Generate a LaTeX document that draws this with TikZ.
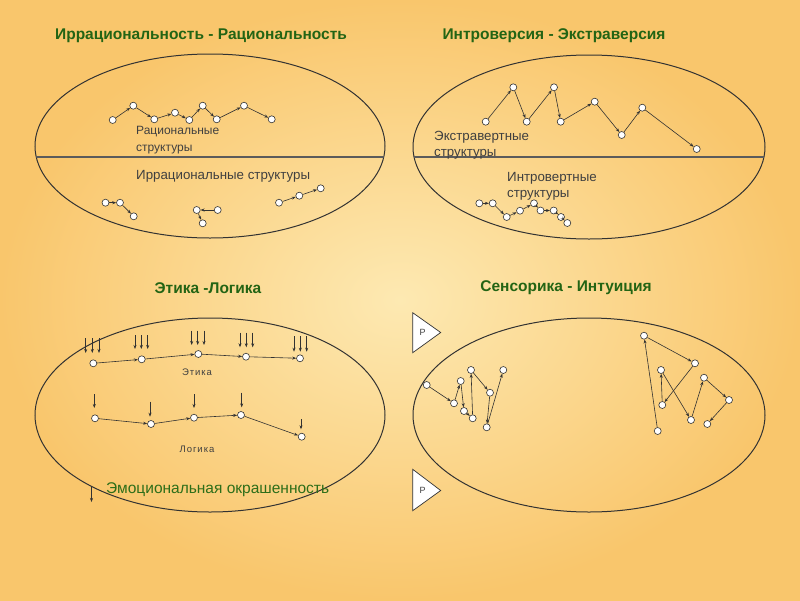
\documentclass[tikz,border=0pt]{standalone}
\usepackage{fontspec}
\setmainfont{Liberation Sans}
\usetikzlibrary{arrows.meta}
\definecolor{bgout}{RGB}{249,198,108}
\definecolor{bgin}{RGB}{253,233,178}
\definecolor{titlegreen}{RGB}{35,100,20}
\definecolor{emogreen}{RGB}{45,110,25}
\definecolor{ln}{RGB}{50,50,50}
\begin{document}
\begin{tikzpicture}[x=1pt,y=-1pt,
  dot/.style={circle,draw=ln,fill=white,inner sep=0pt,minimum size=7pt,line width=0.6pt},
  arr/.style={-{Stealth[length=4pt,width=3pt]},draw=ln,line width=0.6pt},
  oval/.style={draw=ln,line width=1pt},
  divider/.style={draw=ln!80,line width=1.3pt},
  titletext/.style={font=\bfseries\fontsize{15.5}{17}\selectfont,text=titlegreen,inner sep=0pt},
  lbl/.style={font=\fontsize{13.3}{16}\selectfont,text=black!75,align=left,anchor=west,inner sep=0pt},
  small/.style={font=\fontsize{9.5}{10}\selectfont\addfontfeature{LetterSpace=10},text=black!75,inner sep=0pt},
  tri/.style={draw=ln,fill=white,line width=0.7pt}]
\useasboundingbox (0,0) rectangle (800,600);
\shade[inner color=bgin,outer color=bgout] (0,0) rectangle (800,600);

% ---- titles
\node[titletext] (t1) at (201,36) {Иррациональность - Рациональность};
\node[titletext] (t2) at (554,36) {Интроверсия - Экстраверсия};
\node[titletext] (t3) at (208,288) {Этика -Логика};
\node[titletext] (t4) at (566,288) {Сенсорика - Интуиция};

% ---- ellipses
\draw[oval] (210,146) ellipse [x radius=175,y radius=92];
\draw[oval] (589,147) ellipse [x radius=176,y radius=92];
\draw[oval] (210,415) ellipse [x radius=175,y radius=97];
\draw[oval] (589,415) ellipse [x radius=176,y radius=97];
\begin{scope}
  \clip (210,146) ellipse [x radius=175,y radius=92];
  \draw[divider] (30,157) -- (390,157);
\end{scope}
\begin{scope}
  \clip (589,147) ellipse [x radius=176,y radius=92];
  \draw[divider] (405,157) -- (770,157);
\end{scope}

% ---- top-left: rational structures
\node[lbl,font=\fontsize{12}{17}\selectfont] (lr) at (136,140.5) {Рациональные\\структуры};
\node[lbl] (li) at (136,176) {Иррациональные структуры};
\foreach \n/\x/\y in {r1/112.7/120,r2/133.3/105.7,r3/154.3/119.3,r4/175/112.7,r5/189.3/120,
  r6/202.7/105.7,r7/216.7/119.3,r8/244/105.7,r9/271.7/119.3,
  i1/105.5/202.7,i2/120/202.7,i3/133.7/216.3,
  i4/196.7/210,i5/217.7/210,i6/202.7/223.3,
  i7/279/202.7,i8/299.3/195.7,i9/320.7/188.3}
  \node[dot] (\n) at (\x,\y) {};
\foreach \a/\b in {r1/r2,r2/r3,r3/r4,r4/r5,r5/r6,r6/r7,r7/r8,r8/r9,
  i1/i2,i2/i3,i5/i4,i4/i6,i7/i8,i8/i9}
  \draw[arr] (\a) -- (\b);

% ---- top-right: extravert / introvert
\node[lbl] (le) at (434,145.5) {Экстравертные\\структуры};
\node[lbl] (lin) at (507,186) {Интровертные\\структуры};
\foreach \n/\x/\y in {e1/485.7/121.7,e2/513.3/87.3,e3/526.7/121.7,e4/554/87.3,e5/560.7/121.7,
  e6/594.7/101.7,e7/621.7/135,e8/642.3/107.7,e9/696.7/149,
  n1/479.3/203.3,n2/492.7/203.3,n3/506.7/217,n4/520/210.7,n5/534/203.3,
  n6/540.5/210.5,n7/553.7/210.5,n8/561/217,n9/567.3/223}
  \node[dot] (\n) at (\x,\y) {};
\foreach \a/\b in {e1/e2,e2/e3,e3/e4,e4/e5,e5/e6,e6/e7,e7/e8,e8/e9,
  n1/n2,n2/n3,n3/n4,n4/n5,n5/n6,n6/n7,n7/n8,n8/n9}
  \draw[arr] (\a) -- (\b);

% ---- bottom-left: ethics / logic
\foreach \n/\x/\y in {a1/93.3/363.3,a2/141.7/359.3,a3/198.3/354,a4/246/356.7,a5/300/358.3,
  b1/95/418.3,b2/151/424,b3/194/417.7,b4/241/415,b5/301.7/436.7}
  \node[dot] (\n) at (\x,\y) {};
\foreach \a/\b in {a1/a2,a2/a3,a3/a4,a4/a5,b1/b2,b2/b3,b3/b4,b4/b5}
  \draw[arr] (\a) -- (\b);
\foreach[count=\i] \x/\ya/\yb in {85.7/338/353,92.3/338/353,99/338/353,
  135/335/349,141.3/335/349,147.7/335/349,
  191.7/330.7/345,197.7/330.7/345,204/330.7/345,
  240/332.7/347.3,246.3/332.7/347.3,252.7/332.7/347.3,
  294/336/351.7,300.3/336/351.7,306.7/336/351.7,
  94.3/394/408,150/401.7/416.7,194/394/408,241.7/392.7/407.3,301/419.3/429.3,
  91.5/486/502}
  {\coordinate (ds\i) at (\x,\ya); \coordinate (de\i) at (\x,\yb); \draw[arr] (ds\i) -- (de\i);}
\node[small] (let) at (197,372) {Этика};
\node[small] (llo) at (197,449) {Логика};
\node[font=\fontsize{15.5}{17}\selectfont,text=emogreen,anchor=west,inner sep=0pt] (lem) at (106,490) {Эмоциональная окрашенность};

% ---- bottom-right: sensing / intuition
\draw[tri] (412.7,312.7) -- (412.7,352.7) -- (440.7,332.5) -- cycle;
\draw[tri] (412.7,469.3) -- (412.7,510.7) -- (440.7,490.5) -- cycle;
\node[font=\fontsize{9}{10}\selectfont,text=black!75,inner sep=0pt] (p1) at (422.5,332.5) {Р};
\node[font=\fontsize{9}{10}\selectfont,text=black!75,inner sep=0pt] (p2) at (422.5,490) {Р};
\foreach \n/\x/\y in {s1/426.7/385,s2/454/403.3,s3/460.7/381,s4/464/411,s5/472.7/418.3,
  s6/471/370,s7/490/392.7,s8/486.7/427.3,s9/503.3/370,
  u1/657.7/431,u2/644/335.7,u3/695/363.3,u4/662.3/405,u5/661/370,
  u6/691/420,u7/704/377.7,u8/729/400,u9/707.3/424}
  \node[dot] (\n) at (\x,\y) {};
\foreach \a/\b in {s1/s2,s2/s3,s3/s4,s4/s5,s5/s6,s6/s7,s7/s8,s8/s9,
  u1/u2,u2/u3,u3/u4,u4/u5,u5/u6,u6/u7,u7/u8,u8/u9}
  \draw[arr] (\a) -- (\b);
\end{tikzpicture}
\end{document}
